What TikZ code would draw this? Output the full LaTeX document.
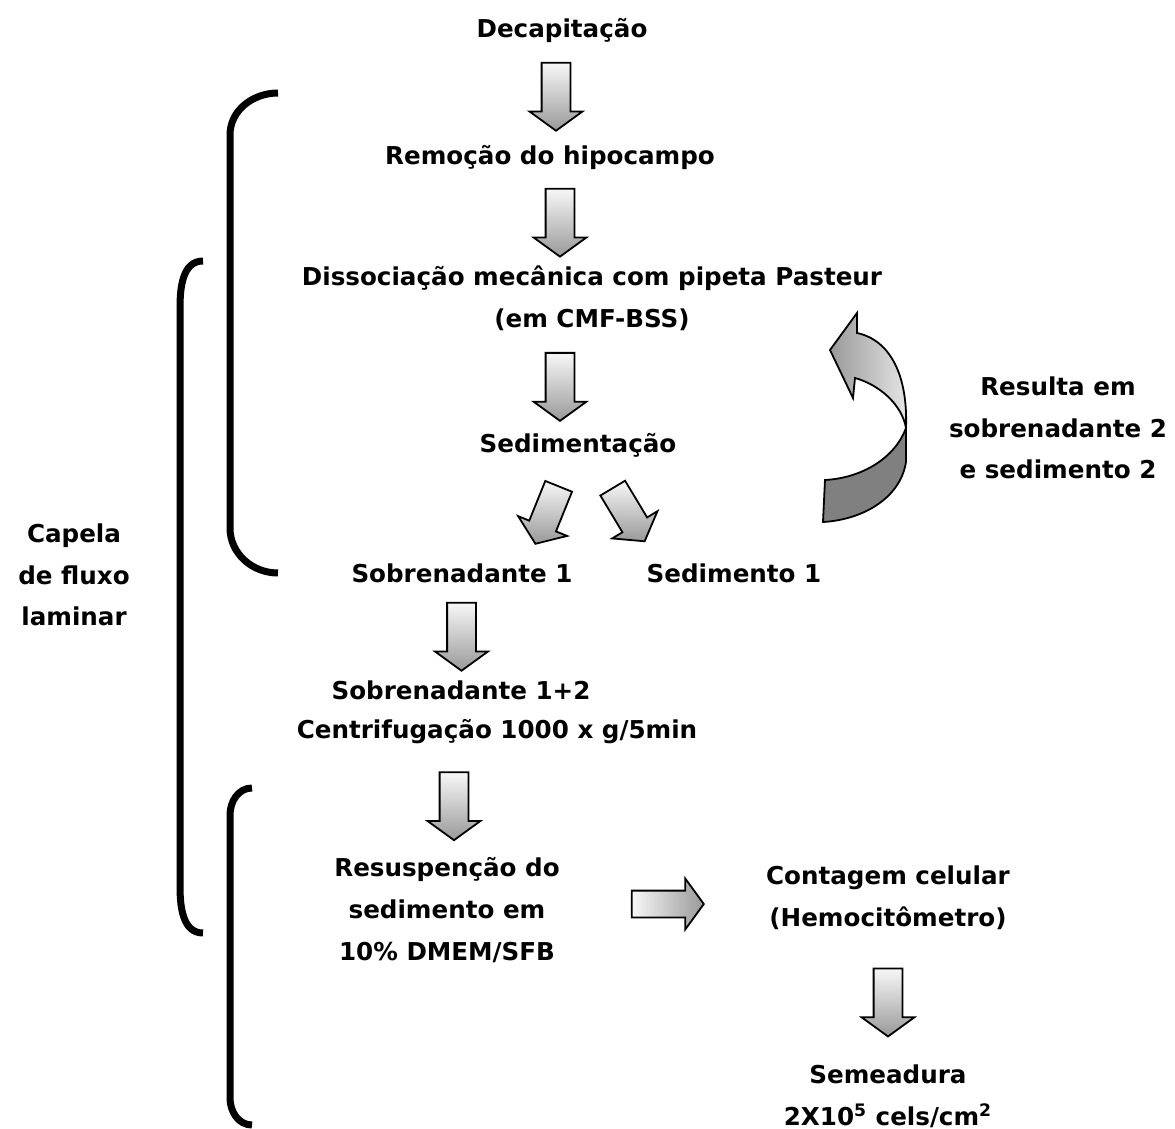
\documentclass[tikz,border=0pt]{standalone}
\usepackage{fontspec}
\setmainfont{DejaVu Sans}
\usetikzlibrary{shapes.arrows, calc, positioning}

\tikzset{
  lbl/.style={font=\bfseries\fontsize{12.3}{20.8}\selectfont, align=center, inner sep=2pt},
  barrow/.style={shape=single arrow, draw, line width=0.9pt, inner xsep=0pt, inner ysep=6.75pt,
    minimum height=34pt, single arrow head extend=6pt,
    single arrow tip angle=108, top color=black!3, bottom color=black!40},
  brace/.style={line width=3.5pt}
}

\begin{document}
\begin{tikzpicture}[x=0.5pt, y=-0.5pt]
\useasboundingbox (0,0) rectangle (1175,1129);

% passos
\node[lbl] (deca) at (562,30) {Decapitação};
\node[lbl] (remo) at (550,157) {Remoção do hipocampo};
\node[lbl] (disso) at (592,298) {Dissociação mecânica com pipeta Pasteur\\(em CMF-BSS)};
\node[lbl] (sedim) at (578,445) {Sedimentação};
\node[lbl] (sobre1) at (462,573) {Sobrenadante 1};
\node[lbl] (sedim1) at (734,573) {Sedimento 1};
\node[lbl] (sobre12) at (461,690) {Sobrenadante 1+2};
\node[lbl] (centri) at (497,732) {Centrifugação 1000 x g/5min};
\node[lbl] (resus) at (447,910) {Resuspenção do\\sedimento em\\10\% DMEM/SFB};
\node[lbl] (conta) at (888,898) {Contagem celular\\(Hemocitômetro)};
\node[lbl] (semea) at (888,1096) {Semeadura\\2X10\textsuperscript{5} cels/cm\textsuperscript{2}};
\node[lbl] (resulta) at (1058,428) {Resulta em\\sobrenadante 2\\e sedimento 2};
\node[lbl] (capela) at (74,575) {Capela\\de fluxo\\laminar};

% setas
\node[barrow, rotate=-90] (a1) at ($(deca.south)!0.5!(remo.north)+(0,-2)$) {};
\node[barrow, rotate=-90] (a2) at ($(remo.south)!0.5!(disso.north)+(-11,0)$) {};
\node[barrow, rotate=-90] (a3) at ($(disso.south)!0.5!(sedim.north)+(-25,0)$) {};
\node[barrow, rotate=-112, minimum height=31pt] (a4) at ($(sedim.south)!0.5!(sobre1.north)+(29,0)$) {};
\node[barrow, rotate=-59, minimum height=31pt] (a5) at ($(sedim.south)!0.5!(sedim1.north)+(-30,0)$) {};
\node[barrow, rotate=-90] (a6) at ($(sobre1.south)!0.5!(sobre12.north)$) {};
\node[barrow, rotate=-90] (a7) at ($(centri.south -| sobre12)!0.5!(resus.north)$) {};
\node[barrow, minimum height=36pt, inner ysep=6.25pt, left color=black!3, right color=black!40] (a8) at ($(resus.east)!0.5!(conta.west)$) {};
\node[barrow, rotate=-90] (a9) at ($(conta.south)!0.5!(semea.north)$) {};

% seta curva
\fill[black!50, draw=black, line width=0.9pt] (825,480) .. controls (862,478) and (895,458) .. (906,428)
  -- (906,462) .. controls (900,500) and (860,520) .. (823,522) -- cycle;
\draw[line width=0.9pt, left color=black!40, right color=black!10] (906,428) .. controls (908,375) and (890,340) .. (857,333)
  -- (857,313) -- (830,350) -- (853,398) -- (855,378) .. controls (880,385) and (902,405) .. (906,428) -- cycle;

% chaves
\draw[brace] (278,93) to[out=180, in=90] (230,135) -- (230,528) to[out=-90, in=180] (278,573);
\draw[brace] (203,261) to[out=180, in=90] (180,308) -- (180,886) to[out=-90, in=180] (203,933);
\draw[brace] (252,788) to[out=180, in=90] (230,815) -- (230,1098) to[out=-90, in=180] (252,1125);
\end{tikzpicture}
\end{document}
